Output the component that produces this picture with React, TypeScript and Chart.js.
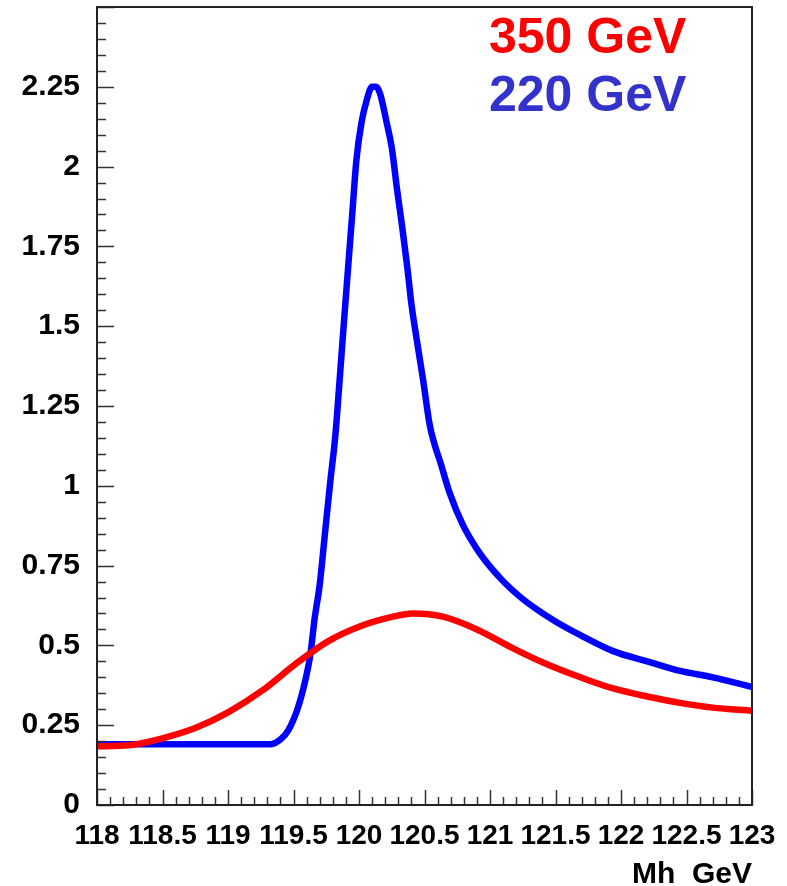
import { useEffect, useRef } from "react";
import { Chart, registerables } from "chart.js";
Chart.register(...registerables);

const massRed = [118.0, 118.24, 118.5, 118.75, 119.0, 119.26, 119.51, 119.76, 120.01, 120.26, 120.41, 120.64, 120.9, 121.18, 121.44, 121.69, 121.94, 122.2, 122.45, 122.7, 123.0];
const valuesRed = [0.184, 0.187, 0.209, 0.241, 0.29, 0.358, 0.44, 0.512, 0.56, 0.59, 0.6, 0.59, 0.55, 0.49, 0.44, 0.4, 0.365, 0.34, 0.32, 0.305, 0.295];

const massBlue = [118.0, 118.5, 119.0, 119.32, 119.4, 119.46, 119.53, 119.59, 119.63, 119.66, 119.7, 119.74, 119.78, 119.82, 119.85, 119.89, 119.92, 119.95, 119.98, 120.02, 120.06, 120.1, 120.13, 120.16, 120.21, 120.25, 120.29, 120.33, 120.37, 120.4, 120.44, 120.49, 120.54, 120.58, 120.62, 120.69, 120.79, 120.92, 121.08, 121.23, 121.36, 121.5, 121.69, 121.94, 122.2, 122.45, 122.7, 123.0];
const valuesBlue = [0.19, 0.19, 0.19, 0.19, 0.205, 0.234, 0.3, 0.39, 0.475, 0.58, 0.69, 0.85, 1.01, 1.16, 1.32, 1.54, 1.7, 1.86, 2.02, 2.14, 2.21, 2.25, 2.25, 2.23, 2.14, 2.06, 1.93, 1.81, 1.68, 1.57, 1.46, 1.33, 1.19, 1.125, 1.075, 0.98, 0.88, 0.79, 0.71, 0.652, 0.612, 0.575, 0.532, 0.482, 0.45, 0.42, 0.4, 0.37];

const xTickValues = [118, 118.5, 119, 119.5, 120, 120.5, 121, 121.5, 122, 122.5, 123];
const yTickValues = [0, 0.25, 0.5, 0.75, 1, 1.25, 1.5, 1.75, 2, 2.25];
const seriesLabels = ["350 GeV", "220 GeV"];
const xTitle = "Mh  GeV";

const FONT = "'Liberation Sans', Arial, Helvetica, sans-serif";

const framePlugin = {
  id: "rootFrame",
  afterDraw(chart: any) {
    const { ctx, chartArea } = chart;
    const { left, right, top, bottom } = chartArea;
    const xs = chart.scales.x;
    const ys = chart.scales.y;
    ctx.save();
    ctx.strokeStyle = "#333333";
    ctx.lineWidth = 1.5;
    ctx.beginPath();
    for (let i = 0; i <= 50; i++) {
      const v = xs.min + i * 0.1;
      const px = Math.round(xs.getPixelForValue(v)) + 0.5;
      const len = i % 5 === 0 ? 15 : 8;
      ctx.moveTo(px, bottom);
      ctx.lineTo(px, bottom - len);
    }
    for (let i = 0; i <= 50; i++) {
      const v = i * 0.05;
      const py = Math.round(ys.getPixelForValue(v)) + 0.5;
      const len = i % 5 === 0 ? 17 : 9;
      ctx.moveTo(left, py);
      ctx.lineTo(left + len, py);
    }
    ctx.stroke();
    ctx.lineWidth = 2;
    ctx.strokeStyle = "#222222";
    ctx.strokeRect(left, top, right - left, bottom - top);

    ctx.textAlign = "left";
    ctx.textBaseline = "alphabetic";
    ctx.font = `bold 50px ${FONT}`;
    ctx.fillStyle = "#ff0000";
    ctx.fillText(seriesLabels[0], 489, 53);
    ctx.fillStyle = "#3333cc";
    ctx.fillText(seriesLabels[1], 489, 111);

    ctx.textAlign = "right";
    ctx.font = `bold 30px ${FONT}`;
    ctx.fillStyle = "#000000";
    ctx.fillText(xTitle, 752, 883);
    ctx.restore();
  },
};

const zeroPad = (s: any) => {
  s.paddingTop = 0;
  s.paddingBottom = 0;
  s.paddingLeft = 0;
  s.paddingRight = 0;
};

export default function App() {
  const ref = useRef<HTMLCanvasElement>(null);
  useEffect(() => {
    document.body.style.margin = "0";
    const canvas = ref.current;
    if (!canvas) return;
    const chart = new Chart(canvas, {
      type: "line",
      data: {
        datasets: [
          {
            label: seriesLabels[0],
            data: massRed.map((m, i) => ({ x: m, y: valuesRed[i] })),
            borderColor: "#ff0000",
            borderWidth: 6.5,
            pointRadius: 0,
            cubicInterpolationMode: "monotone",
            fill: false,
          },
          {
            label: seriesLabels[1],
            data: massBlue.map((m, i) => ({ x: m, y: valuesBlue[i] })),
            borderColor: "#0000ff",
            borderWidth: 6.5,
            pointRadius: 0,
            cubicInterpolationMode: "monotone",
            fill: false,
          },
        ],
      },
      options: {
        animation: false,
        responsive: true,
        maintainAspectRatio: false,
        layout: { padding: { top: 7, right: 35, left: 0, bottom: 0 } },
        plugins: { legend: { display: false }, tooltip: { enabled: false } },
        scales: {
          x: {
            type: "linear",
            min: 118,
            max: 123,
            grid: { display: false, drawTicks: false },
            border: { display: false },
            afterBuildTicks: (s: any) => {
              s.ticks = xTickValues.map((v) => ({ value: v }));
            },
            afterFit: (s: any) => {
              s.height = 81;
              zeroPad(s);
            },
            ticks: {
              autoSkip: false,
              maxRotation: 0,
              padding: 14,
              color: "#000",
              font: { family: FONT, weight: "bold", size: 28 },
              callback: (v: any) => String(v),
            },
          },
          y: {
            type: "linear",
            min: 0,
            max: 2.5,
            grid: { display: false, drawTicks: false },
            border: { display: false },
            afterBuildTicks: (s: any) => {
              s.ticks = yTickValues.map((v) => ({ value: v }));
            },
            afterFit: (s: any) => {
              s.width = 97;
              zeroPad(s);
            },
            ticks: {
              autoSkip: false,
              padding: 17,
              color: "#000",
              font: { family: FONT, weight: "bold", size: 30 },
              callback: (v: any) => String(v),
            },
          },
        },
      },
      plugins: [framePlugin],
    });
    return () => chart.destroy();
  }, []);
  return (
    <div style={{ width: 787, height: 886, position: "relative", background: "#fff" }}>
      <canvas ref={ref} />
    </div>
  );
}
